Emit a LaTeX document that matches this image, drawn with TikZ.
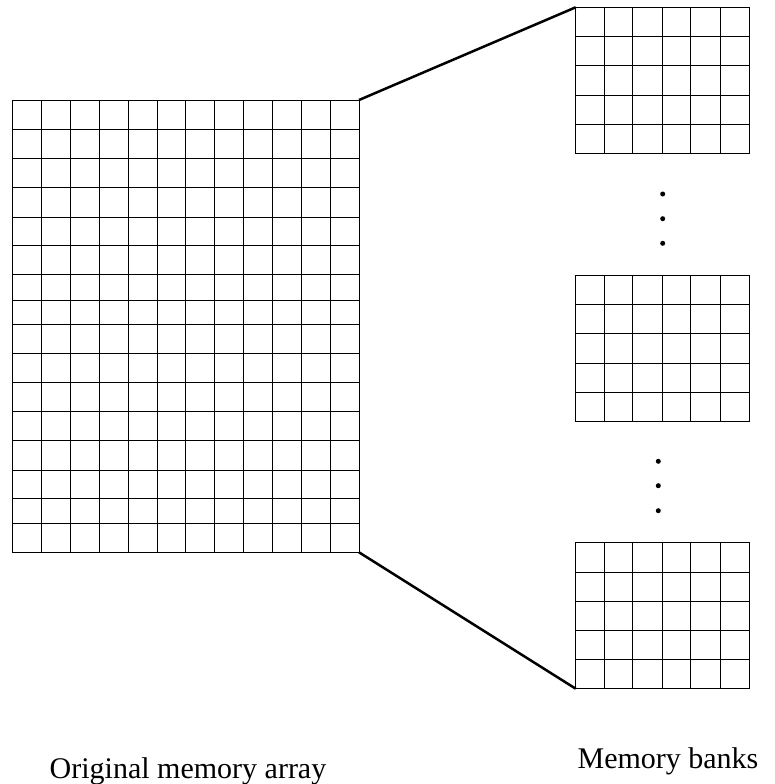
\documentclass[tikz,border=0pt]{standalone}
\usepackage{fontspec}
\setmainfont{Liberation Serif}
\begin{document}
\begin{tikzpicture}[x=1pt,y=-1pt,
  gridbox/.style={draw,line width=1pt,inner sep=0pt,outer sep=0pt,anchor=north west},
  gridline/.style={line width=1pt},
  link/.style={line width=2.5pt},
  dotmark/.style={circle,fill=black,inner sep=0pt,minimum size=5pt},
  caption/.style={font=\fontsize{30}{36}\selectfont,anchor=base,inner sep=0pt}]
\useasboundingbox (0,0) rectangle (774,784);
% original memory array
\node[gridbox,minimum width=346.3pt,minimum height=452.3pt] (orig) at (12.7,100) {};
\foreach \x in {41,70,99.3,128,157,185.7,214.3,243.3,272.7,301.3,330}
  \draw[gridline] (\x,100) -- (\x,552.3);
\foreach \y in {129,158.7,187.7,217,245.7,274.3,300,324.3,353.3,382.7,411.7,440.7,470,498.7,523.3}
  \draw[gridline] (12.7,\y) -- (359,\y);
% memory banks
\foreach \name/\top in {bankA/7.3,bankB/275,bankC/542.7}{
  \node[gridbox,minimum width=173.3pt,minimum height=146pt] (\name) at (575.7,\top) {};
  \foreach \x in {604,632.7,662,690.7,720}
    \draw[gridline] (\x,\top) -- (\x,\top+146);
  \foreach \d in {29.3,58.7,88,117}
    \draw[gridline] (575.7,\top+\d) -- (749,\top+\d);
}
% connectors
\draw[link] (orig.north east) -- (bankA.north west);
\draw[link] (orig.south east) -- (bankC.south west);
% dots
\node[dotmark] (d1) at (662.7,194) {};
\node[dotmark] (d2) at (662.7,218.7) {};
\node[dotmark] (d3) at (662.7,243.3) {};
\node[dotmark] (d4) at (658.3,461.3) {};
\node[dotmark] (d5) at (658.3,485.7) {};
\node[dotmark] (d6) at (658.3,510.7) {};
% captions
\node[caption] (capA) at (188,778) {Original memory array};
\node[caption] (capB) at (668,768) {Memory banks};
\end{tikzpicture}
\end{document}
